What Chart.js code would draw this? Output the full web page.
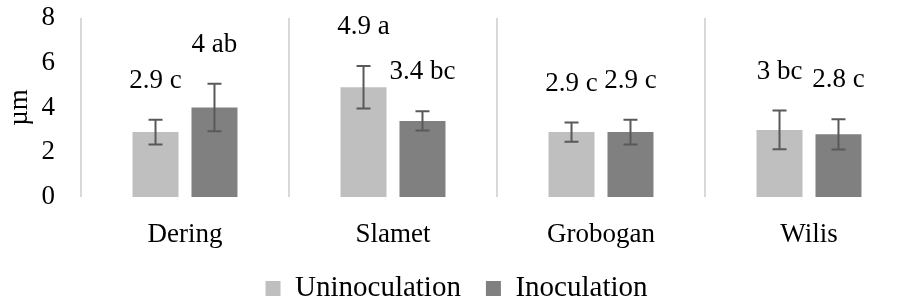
<!DOCTYPE html>
<html><head><meta charset="utf-8">
<script src="https://cdn.jsdelivr.net/npm/chart.js@4/dist/chart.umd.min.js"></script>
<style>html,body{margin:0;padding:0;overflow:hidden;background:#fff;width:904px;height:304px}canvas{display:block}</style>
</head><body><canvas id="c" width="920" height="304" style="width:920px;height:304px"></canvas>
<script>
const categories = ['Dering', 'Slamet', 'Grobogan', 'Wilis'];
const uninoculation = [2.9, 4.9, 2.9, 3.0];
const inoculation = [4.0, 3.4, 2.9, 2.8];
const uninoculationError = [0.55, 0.95, 0.43, 0.87];
const inoculationError = [1.06, 0.43, 0.55, 0.68];
const uninoculationLetters = ['c', 'a', 'c', 'bc'];
const inoculationLetters = ['ab', 'bc', 'c', 'c'];
const yTicks = [0, 2, 4, 6, 8];

const FONT = '"Liberation Serif", "Times New Roman", Tinos, "DejaVu Serif", serif';

const errorAndLabels = {
  id: 'errorAndLabels',
  beforeInit(chart) {
    const lg = chart.legend;
    if (lg) {
      const origFit = lg.fit;
      lg.fit = function () { origFit.call(this); this.height = 52; };
    }
  },
  afterLayout(chart) {
    const lg = chart.legend;
    if (lg) { lg.top = 249; lg.bottom = 304; }
  },
  afterDatasetsDraw(chart) {
    const ctx = chart.ctx;
    const ys = chart.scales.y;
    chart.data.datasets.forEach((ds, di) => {
      const meta = chart.getDatasetMeta(di);
      meta.data.forEach((bar, i) => {
        const v = ds.data[i], e = ds.errors[i];
        const x = bar.x;
        const yt = ys.getPixelForValue(v + e);
        const yb = ys.getPixelForValue(v - e);
        ctx.save();
        ctx.strokeStyle = '#595959';
        ctx.lineWidth = 2;
        ctx.beginPath();
        ctx.moveTo(x, yt); ctx.lineTo(x, yb);
        ctx.moveTo(x - 7, yt); ctx.lineTo(x + 7, yt);
        ctx.moveTo(x - 7, yb); ctx.lineTo(x + 7, yb);
        ctx.stroke();
        ctx.fillStyle = '#000';
        ctx.font = '27px ' + FONT;
        ctx.textAlign = 'center';
        ctx.textBaseline = 'middle';
        ctx.fillText(String(v) + ' ' + ds.letters[i], x, yt - 39);
        ctx.restore();
      });
    });
  }
};

function build() {
  new Chart(document.getElementById('c'), {
    type: 'bar',
    data: {
      labels: categories,
      datasets: [
        { label: 'Uninoculation', data: uninoculation, errors: uninoculationError, letters: uninoculationLetters,
          backgroundColor: '#bfbfbf', categoryPercentage: 0.567, barPercentage: 0.78 },
        { label: 'Inoculation', data: inoculation, errors: inoculationError, letters: inoculationLetters,
          backgroundColor: '#808080', categoryPercentage: 0.567, barPercentage: 0.78 }
      ]
    },
    options: {
      responsive: false,
      animation: false,
      devicePixelRatio: 1,
      layout: { padding: { top: 18, right: 7, left: 0, bottom: 0 } },
      plugins: {
        legend: {
          position: 'bottom',
          labels: { boxWidth: 15, boxHeight: 15, padding: 25, color: '#000', font: { family: FONT, size: 29 } }
        },
        tooltip: { enabled: false }
      },
      scales: {
        x: {
          grid: { display: true, offset: true, drawTicks: false, color: '#d9d9d9', lineWidth: 2 },
          border: { display: false },
          ticks: { color: '#000', padding: 22, font: { family: FONT, size: 27 } },
          afterFit: (s) => { s.height = 55; }
        },
        y: {
          min: 0, max: 8,
          afterBuildTicks: (s) => { s.ticks = yTicks.map(v => ({ value: v })); },
          afterFit: (s) => { s.paddingTop = 0; s.paddingBottom = 0; s.width = 81; },
          grid: { display: false, drawTicks: false },
          border: { display: false },
          ticks: { color: '#000', padding: 26, autoSkip: false, font: { family: FONT, size: 27 } },
          title: { display: true, text: 'µm', color: '#000', font: { family: FONT, size: 27 } }
        }
      }
    },
    plugins: [errorAndLabels]
  });
}
if (document.fonts && document.fonts.load) {
  document.fonts.load('27px "Liberation Serif"').then(build, build);
} else { build(); }
</script></body></html>
